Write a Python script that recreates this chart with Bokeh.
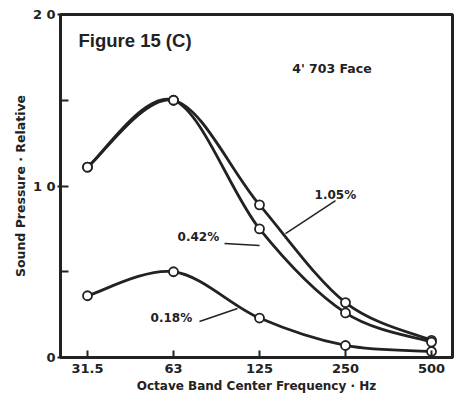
from bokeh.plotting import figure
from bokeh.models import Range1d, FixedTicker, Label, Arrow
from bokeh.embed import file_html
from bokeh.resources import INLINE

bands = ["31.5", "63", "125", "250", "500"]
pct_105 = [1.11, 1.50, 0.89, 0.32, 0.10]
pct_042 = [1.11, 1.50, 0.75, 0.26, 0.09]
pct_018 = [0.36, 0.50, 0.23, 0.07, 0.035]
y_ticks = [0, 1, 2]
y_tick_labels = ["0", "1 0", "2 0"]
y_minor = [0.5, 1.5]

x = list(range(len(bands)))
INK = "#222222"
FONT = "DejaVu Sans"

p = figure(width=455, height=400, output_backend="svg", toolbar_location=None,
           x_range=Range1d(-0.314, 4.244), y_range=Range1d(0, 2.0),
           min_border_left=60, min_border_right=3, min_border_top=14, min_border_bottom=43)
p.grid.visible = False
p.outline_line_color = INK
p.outline_line_width = 3
p.background_fill_color = "white"
p.border_fill_color = "white"

# axes
p.xaxis.ticker = FixedTicker(ticks=x)
p.xaxis.major_label_overrides = {i: b for i, b in zip(x, bands)}
p.yaxis.ticker = FixedTicker(ticks=y_ticks, minor_ticks=y_minor)
p.yaxis.major_label_overrides = {t: l for t, l in zip(y_ticks, y_tick_labels)}
for ax in (p.xaxis, p.yaxis):
    ax.axis_line_color = INK
    ax.axis_line_width = 3
    ax.major_tick_line_color = INK
    ax.major_tick_line_width = 2
    ax.minor_tick_line_color = INK
    ax.minor_tick_line_width = 2
    ax.major_label_text_font = FONT
    ax.major_label_text_font_style = "bold"
    ax.major_label_text_font_size = "13px"
    ax.major_label_text_color = INK
    ax.axis_label_text_font = FONT
    ax.axis_label_text_font_style = "bold"
    ax.axis_label_text_color = INK
p.xaxis.axis_label_text_font_size = "12px"
p.yaxis.axis_label_text_font_size = "12.5px"
p.xaxis.major_tick_in = 7
p.xaxis.major_tick_out = 0
p.xaxis.minor_tick_in = 0
p.xaxis.minor_tick_out = 0
p.xaxis.major_label_standoff = 6
p.xaxis.axis_label = "Octave Band Center Frequency · Hz"
p.xaxis.axis_label_standoff = 3
p.yaxis.major_tick_in = 8
p.yaxis.major_tick_out = 3
p.yaxis.minor_tick_in = 8
p.yaxis.minor_tick_out = 0
p.yaxis.major_label_standoff = 2
p.yaxis.axis_label = "Sound Pressure · Relative"
p.yaxis.axis_label_standoff = 2


def smooth_curve(xs, ys):
    # Catmull-Rom style Bezier segments passing through every data point
    n = len(xs)
    d = dict(x0=[], y0=[], x1=[], y1=[], cx0=[], cy0=[], cx1=[], cy1=[])
    for i in range(n - 1):
        a, b = max(i - 1, 0), min(i + 2, n - 1)
        d["x0"].append(xs[i]); d["y0"].append(ys[i])
        d["x1"].append(xs[i + 1]); d["y1"].append(ys[i + 1])
        d["cx0"].append(xs[i] + (xs[i + 1] - xs[a]) / 6)
        d["cy0"].append(ys[i] + (ys[i + 1] - ys[a]) / 6)
        d["cx1"].append(xs[i + 1] - (xs[b] - xs[i]) / 6)
        d["cy1"].append(ys[i + 1] - (ys[b] - ys[i]) / 6)
    p.bezier(source=d, x0="x0", y0="y0", x1="x1", y1="y1", cx0="cx0", cy0="cy0",
             cx1="cx1", cy1="cy1", line_color=INK, line_width=2.8)


for series in (pct_105, pct_042, pct_018):
    smooth_curve(x, series)
    p.scatter(x, series, size=9, marker="circle", fill_color="white",
              line_color=INK, line_width=1.8)


def lab(txt, xx, yy, size, font=FONT):
    p.add_layout(Label(x=xx, y=yy, text=txt, text_font=font, text_font_style="bold",
                       text_font_size=size, text_color=INK, text_baseline="middle",
                       text_align="left"))


lab("Figure 15 (C)", -0.105, 1.85, "18.5px", "Liberation Sans")
lab("4' 703 Face", 2.38, 1.685, "12.5px")
lab("1.05%", 2.64, 0.95, "12px")
lab("0.42%", 1.047, 0.705, "12px")
lab("0.18%", 0.733, 0.233, "12px")

for (x0, y0, x1, y1) in [(2.884, 0.915, 2.302, 0.723),
                         (1.593, 0.665, 2.0, 0.653),
                         (1.302, 0.21, 1.744, 0.286)]:
    p.add_layout(Arrow(end=None, x_start=x0, y_start=y0, x_end=x1, y_end=y1,
                       line_color=INK, line_width=1.5))

open("out.html", "w").write(file_html(p, INLINE))
